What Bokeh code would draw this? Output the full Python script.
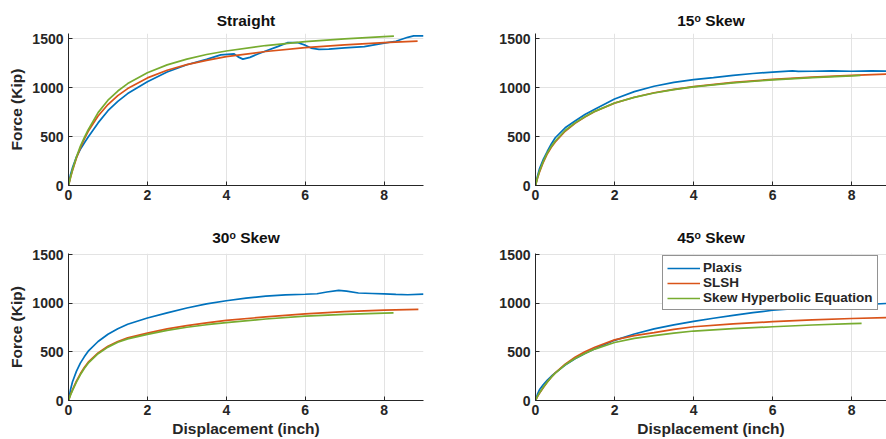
from bokeh.plotting import figure
from bokeh.layouts import column, row
from bokeh.models import Range1d, FixedTicker
from bokeh.embed import file_html
from bokeh.resources import INLINE

# ---------------- data ----------------
titles = ["Straight", "15\u1d52 Skew", "30\u1d52 Skew", "45\u1d52 Skew"]
series_names = ["Plaxis", "SLSH", "Skew Hyperbolic Equation"]
x_ticks = [0, 2, 4, 6, 8]
y_ticks = [0, 500, 1000, 1500]

# Straight
straight_plaxis_x = [0, 0.05, 0.1, 0.2, 0.3, 0.4, 0.5, 0.75, 1, 1.25, 1.5, 2, 2.5, 3, 3.5, 3.86, 4.2, 4.3, 4.42, 4.6, 4.8, 5.0, 5.3, 5.55, 5.8, 6.0, 6.15, 6.35, 6.6, 7.0, 7.5, 8.0, 8.3, 8.6, 8.75, 9.0]
straight_plaxis_y = [0, 110, 180, 290, 370, 435, 495, 640, 765, 860, 940, 1060, 1160, 1235, 1290, 1335, 1345, 1315, 1292, 1310, 1345, 1375, 1420, 1460, 1462, 1435, 1405, 1392, 1395, 1408, 1420, 1455, 1475, 1515, 1530, 1530]
straight_slsh_x = [0, 0.05, 0.1, 0.2, 0.3, 0.4, 0.5, 0.75, 1, 1.25, 1.5, 2, 2.5, 3, 3.5, 4, 5, 6, 7, 8, 8.85]
straight_slsh_y = [0, 80, 152, 278, 384, 475, 554, 711, 828, 919, 991, 1100, 1178, 1236, 1280, 1317, 1370, 1409, 1438, 1460, 1476]
straight_skew_x = [0, 0.05, 0.1, 0.2, 0.3, 0.4, 0.5, 0.75, 1, 1.25, 1.5, 2, 2.5, 3, 3.5, 4, 5, 6, 7, 8, 8.25]
straight_skew_y = [0, 85, 160, 290, 400, 490, 570, 745, 872, 966, 1042, 1153, 1233, 1292, 1339, 1375, 1431, 1470, 1499, 1522, 1527]

# 15 deg skew
skew15_plaxis_x = [0, 0.05, 0.1, 0.2, 0.3, 0.4, 0.5, 0.75, 1, 1.25, 1.5, 2, 2.5, 3, 3.5, 4, 4.5, 5, 5.5, 6, 6.5, 6.65, 7, 7.5, 8, 8.5, 8.88]
skew15_plaxis_y = [0, 95, 170, 270, 350, 425, 488, 590, 660, 725, 780, 885, 960, 1015, 1055, 1083, 1103, 1125, 1145, 1160, 1172, 1166, 1168, 1172, 1168, 1172, 1170]
skew15_slsh_x = [0, 0.05, 0.1, 0.2, 0.3, 0.4, 0.5, 0.75, 1, 1.25, 1.5, 2, 2.5, 3, 3.5, 4, 5, 6, 7, 8, 8.88]
skew15_slsh_y = [0, 75, 135, 240, 325, 390, 445, 555, 635, 700, 757, 842, 902, 948, 983, 1011, 1054, 1085, 1107, 1125, 1138]
skew15_skew_x = [0, 0.05, 0.1, 0.2, 0.3, 0.4, 0.5, 0.75, 1, 1.25, 1.5, 2, 2.5, 3, 3.5, 4, 5, 6, 7, 8, 8.22]
skew15_skew_y = [0, 80, 145, 250, 335, 400, 455, 562, 640, 703, 758, 843, 901, 946, 980, 1008, 1050, 1080, 1103, 1121, 1126]

# 30 deg skew
skew30_plaxis_x = [0, 0.05, 0.1, 0.2, 0.3, 0.4, 0.5, 0.75, 1, 1.25, 1.5, 2, 2.5, 3, 3.5, 4, 4.5, 5, 5.5, 6, 6.3, 6.55, 6.85, 7.05, 7.35, 7.7, 8, 8.3, 8.6, 9]
skew30_plaxis_y = [0, 110, 190, 300, 385, 450, 508, 608, 683, 740, 786, 850, 903, 953, 995, 1028, 1055, 1076, 1088, 1095, 1100, 1118, 1135, 1128, 1108, 1103, 1098, 1093, 1090, 1096]
skew30_slsh_x = [0, 0.05, 0.1, 0.2, 0.3, 0.4, 0.5, 0.75, 1, 1.25, 1.5, 2, 2.5, 3, 3.5, 4, 5, 6, 7, 8, 8.87]
skew30_slsh_y = [0, 60, 110, 200, 275, 340, 395, 490, 560, 608, 645, 695, 738, 772, 800, 825, 862, 893, 915, 932, 940]
skew30_skew_x = [0, 0.05, 0.1, 0.2, 0.3, 0.4, 0.5, 0.75, 1, 1.25, 1.5, 2, 2.5, 3, 3.5, 4, 5, 6, 7, 8, 8.24]
skew30_skew_y = [0, 55, 102, 190, 265, 330, 385, 482, 550, 600, 635, 682, 722, 755, 781, 802, 840, 870, 888, 900, 903]

# 45 deg skew
skew45_plaxis_x = [0, 0.05, 0.1, 0.2, 0.3, 0.4, 0.5, 0.75, 1, 1.25, 1.5, 2, 2.5, 3, 3.5, 4, 4.5, 5, 5.5, 6, 7, 8, 8.88]
skew45_plaxis_y = [0, 65, 110, 165, 210, 250, 285, 365, 430, 485, 533, 620, 685, 738, 780, 815, 848, 878, 905, 930, 960, 983, 1000]
skew45_slsh_x = [0, 0.05, 0.1, 0.2, 0.3, 0.4, 0.5, 0.75, 1, 1.25, 1.5, 2, 2.5, 3, 3.5, 4, 5, 6, 7, 8, 8.88]
skew45_slsh_y = [0, 40, 75, 135, 190, 240, 285, 375, 445, 503, 548, 625, 668, 700, 733, 760, 790, 812, 830, 845, 855]
skew45_skew_x = [0, 0.05, 0.1, 0.2, 0.3, 0.4, 0.5, 0.75, 1, 1.25, 1.5, 2, 2.5, 3, 3.5, 4, 5, 6, 7, 8, 8.25]
skew45_skew_y = [0, 42, 78, 138, 192, 240, 282, 368, 432, 485, 530, 598, 640, 668, 695, 716, 740, 760, 778, 792, 795]

# ---------------- styling ----------------
COLORS = ["#0072BD", "#D95319", "#77AC30"]
TXT = "#262626"
FONT = "Liberation Sans"
GRID = "#e3e3e3"


def make_panel(title, xmax, ymax, fw, fh, ml, mr, mt, mb, standoff, xlabel, ylabel, series, legend=False):
    p = figure(frame_width=fw, frame_height=fh,
               x_range=Range1d(0, xmax), y_range=Range1d(0, ymax),
               min_border_left=ml, min_border_right=mr,
               min_border_top=mt, min_border_bottom=mb,
               output_backend="svg", toolbar_location=None)
    p.outline_line_color = None
    p.background_fill_color = "white"
    p.border_fill_color = "white"

    p.title.text = title
    p.title.align = "center"
    p.title.text_font = FONT
    p.title.text_font_size = "15.5px"
    p.title.text_font_style = "bold"
    p.title.text_color = "#111111"
    p.title.standoff = standoff

    p.xaxis.ticker = FixedTicker(ticks=x_ticks)
    p.yaxis.ticker = FixedTicker(ticks=y_ticks)
    p.xgrid.ticker = FixedTicker(ticks=x_ticks)
    p.ygrid.ticker = FixedTicker(ticks=y_ticks)
    p.grid.grid_line_color = GRID
    p.grid.grid_line_width = 1

    for ax in (p.xaxis, p.yaxis):
        ax.axis_line_color = TXT
        ax.axis_line_width = 1
        ax.major_tick_line_color = TXT
        ax.major_tick_in = 4
        ax.major_tick_out = 0
        ax.minor_tick_line_color = None
        ax.major_label_text_font = FONT
        ax.major_label_text_font_size = "14px"
        ax.major_label_text_font_style = "bold"
        ax.major_label_text_color = TXT
        ax.axis_label_text_font = FONT
        ax.axis_label_text_font_size = "15.5px"
        ax.axis_label_text_font_style = "bold"
        ax.axis_label_text_color = TXT
    p.xaxis.major_label_standoff = 4
    p.yaxis.major_label_standoff = 5
    p.xaxis.axis_label_standoff = 2
    p.yaxis.axis_label_standoff = 4
    if xlabel:
        p.xaxis.axis_label = xlabel
    if ylabel:
        p.yaxis.axis_label = ylabel

    for (xs, ys), color, name in zip(series, COLORS, series_names):
        if legend:
            p.line(xs, ys, line_color=color, line_width=1.7, legend_label=name)
        else:
            p.line(xs, ys, line_color=color, line_width=1.7)

    if legend:
        lg = p.legend[0]
        lg.location = (127, 90)
        lg.border_line_color = TXT
        lg.border_line_width = 1
        lg.background_fill_color = "white"
        lg.background_fill_alpha = 1
        lg.padding = 4
        lg.spacing = 0
        lg.margin = 0
        lg.glyph_width = 33
        lg.glyph_height = 14
        lg.label_height = 14
        lg.label_standoff = 3
        lg.label_text_font = FONT
        lg.label_text_font_size = "13.5px"
        lg.label_text_font_style = "bold"
        lg.label_text_color = TXT
    return p


p1 = make_panel(titles[0], 9, 1554, 355, 152, 68, 20, 33, 28, 9, None, "Force (Kip)",
                [(straight_plaxis_x, straight_plaxis_y), (straight_slsh_x, straight_slsh_y), (straight_skew_x, straight_skew_y)])
p2 = make_panel(titles[1], 8.88, 1554, 351, 152, 92, 0, 33, 28, 9, None, None,
                [(skew15_plaxis_x, skew15_plaxis_y), (skew15_slsh_x, skew15_slsh_y), (skew15_skew_x, skew15_skew_y)])
p3 = make_panel(titles[2], 9, 1515, 355, 147, 68, 20, 40, 39, 16, "Displacement (inch)", "Force (Kip)",
                [(skew30_plaxis_x, skew30_plaxis_y), (skew30_slsh_x, skew30_slsh_y), (skew30_skew_x, skew30_skew_y)])
p4 = make_panel(titles[3], 8.88, 1515, 351, 147, 92, 0, 40, 39, 16, "Displacement (inch)", None,
                [(skew45_plaxis_x, skew45_plaxis_y), (skew45_slsh_x, skew45_slsh_y), (skew45_skew_x, skew45_skew_y)],
                legend=True)

layout = column(row(p1, p2, spacing=0), row(p3, p4, spacing=0), spacing=0)

open("out.html", "w").write(file_html(layout, INLINE))
